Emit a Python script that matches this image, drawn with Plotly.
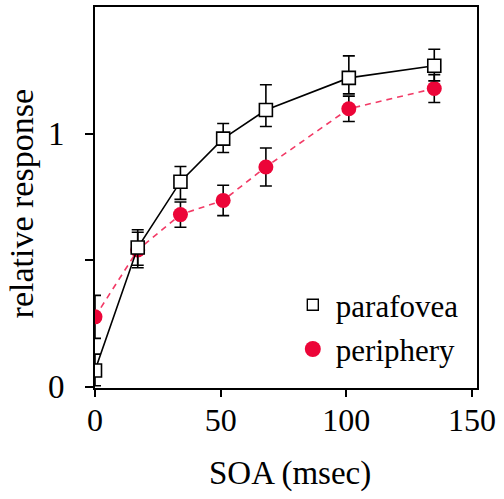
import plotly.graph_objects as go

soa = [0, 17, 34, 51, 68, 101, 135]
parafovea = [0.064, 0.55, 0.81, 0.98, 1.093, 1.22, 1.268]
para_err_plus = [0.065, 0.07, 0.06, 0.06, 0.10, 0.087, 0.065]
para_err_minus = [0.06, 0.07, 0.07, 0.055, 0.065, 0.063, 0.06]
periphery = [0.276, 0.54, 0.68, 0.736, 0.868, 1.098, 1.178]
peri_err = [0.085, 0.07, 0.05, 0.06, 0.075, 0.05, 0.055]

x_ticks = [0, 50, 100, 150]
y_ticks = [0, 0.5, 1]
y_tick_labels = ["0", "", "1"]

RED = "#ec0538"
FONT = "Liberation Serif"

fig = go.Figure()

fig.add_trace(go.Scatter(
    x=soa, y=periphery, mode="lines+markers", showlegend=False,
    line=dict(color="#f23a66", width=1.6, dash="6px,5px"),
    marker=dict(color=RED, size=15, symbol="circle"),
    error_y=dict(type="data", array=peri_err, color="black", thickness=1.6, width=6),
))
fig.add_trace(go.Scatter(
    x=soa, y=parafovea, mode="lines+markers", showlegend=False,
    line=dict(color="black", width=1.6),
    marker=dict(color="white", size=13, symbol="square", line=dict(color="black", width=1.6)),
    error_y=dict(type="data", array=para_err_plus, arrayminus=para_err_minus,
                 color="black", thickness=1.6, width=6),
))
# legend entries
fig.add_trace(go.Scatter(
    x=[None], y=[None], mode="markers", name="parafovea", legendgroup="a",
    marker=dict(color="white", size=11, symbol="square", line=dict(color="black", width=1.4)),
))
fig.add_trace(go.Scatter(
    x=[None], y=[None], mode="markers", name="periphery", legendgroup="b",
    marker=dict(color=RED, size=17, symbol="circle"),
))

fig.update_layout(
    width=504, height=499,
    margin=dict(l=95, r=27, t=5, b=111),
    paper_bgcolor="white", plot_bgcolor="white",
    font=dict(family=FONT, color="black", size=30),
    showlegend=True,
    legend=dict(x=0.51, y=0.16, xanchor="left", yanchor="middle",
                font=dict(family=FONT, size=31, color="black"),
                bgcolor="rgba(0,0,0,0)", tracegroupgap=1, itemwidth=36),
    xaxis=dict(range=[0, 152], tickvals=x_ticks, ticks="outside", ticklen=7,
               tickwidth=1.6, tickcolor="black", showline=True, linecolor="black",
               linewidth=1.8, mirror=True, showgrid=False, zeroline=False,
               tickfont=dict(family=FONT, size=32), ticklabelstandoff=-4),
    yaxis=dict(range=[-0.005, 1.5], tickvals=y_ticks, ticktext=y_tick_labels,
               ticks="outside", ticklen=8, tickwidth=1.6, tickcolor="black",
               showline=True, linecolor="black", linewidth=1.8, mirror=True,
               showgrid=False, zeroline=False,
               tickfont=dict(family=FONT, size=33), ticklabelstandoff=14),
    annotations=[
        dict(text="SOA (msec)", xref="paper", yref="paper", x=0.51, y=-0.225,
             xanchor="center", yanchor="middle", showarrow=False,
             font=dict(family=FONT, size=33)),
        dict(text="relative response", xref="paper", yref="paper", x=-0.19, y=0.483,
             xanchor="center", yanchor="middle", showarrow=False, textangle=-90,
             font=dict(family=FONT, size=34)),
    ],
)

fig.write_html("out.html")
